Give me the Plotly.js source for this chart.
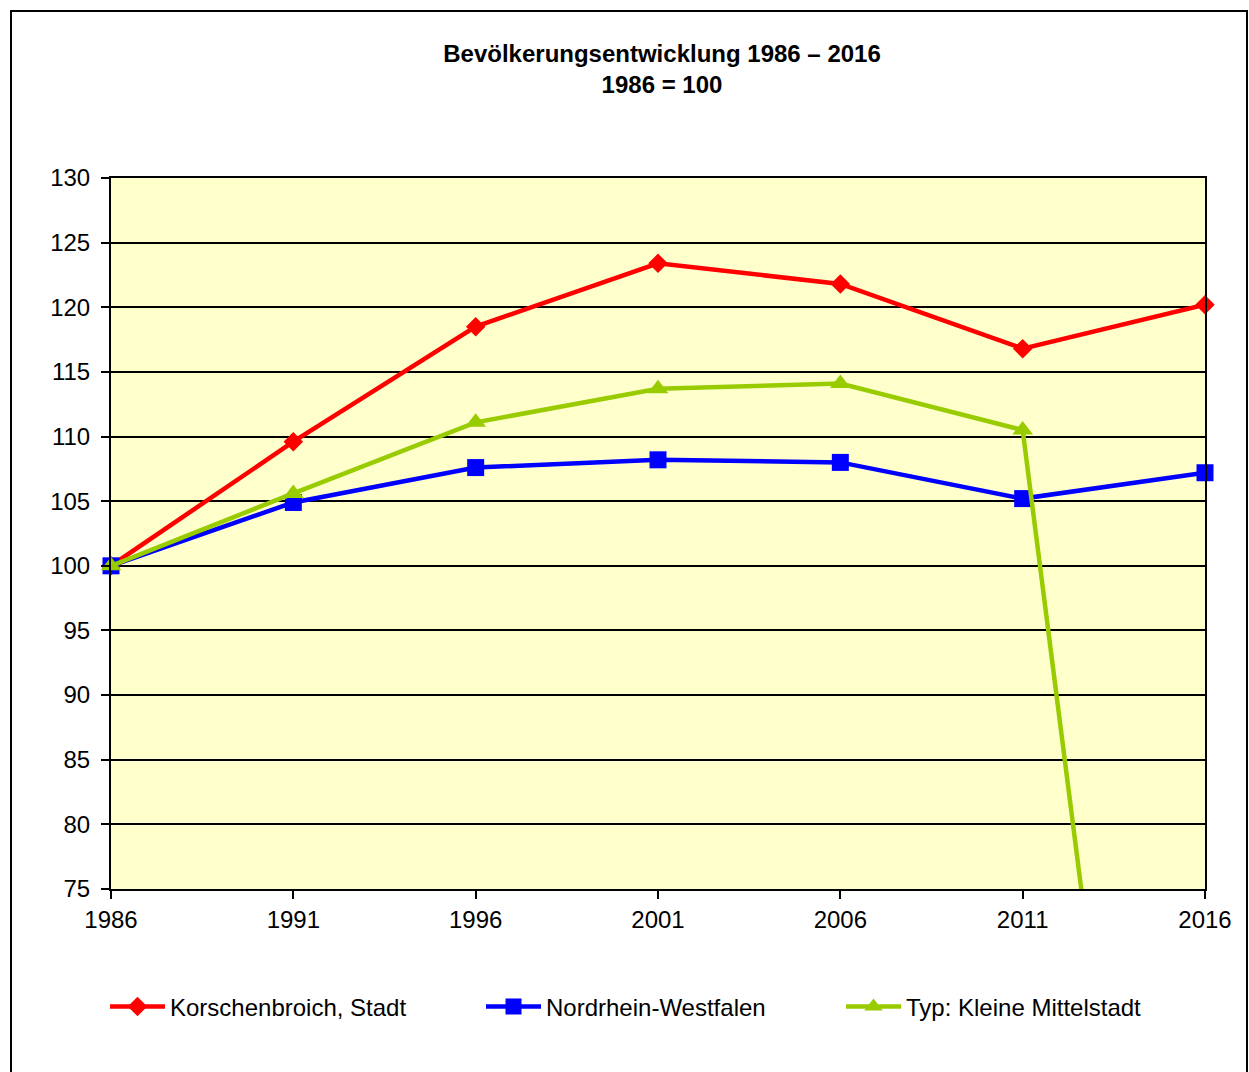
<!DOCTYPE html>
<html><head><meta charset="utf-8">
<script src="https://cdn.plot.ly/plotly-3.0.1.min.js"></script>
<style>
html,body{margin:0;padding:0;background:#fff;}
#chart{width:1249px;height:1072px;}
#frame{position:absolute;left:10px;top:10px;width:1234px;height:1080px;border:2px solid #000;pointer-events:none;}
</style></head>
<body>
<div id="chart"></div>
<div id="frame"></div>
<script>
const years = [1986, 1991, 1996, 2001, 2006, 2011, 2016];
const korschenbroich = [100, 109.6, 118.5, 123.4, 121.8, 116.8, 120.2];
const nrw = [100, 104.9, 107.6, 108.2, 108.0, 105.2, 107.2];
const kleineMittelstadt = [100, 105.6, 111.1, 113.7, 114.1, 110.5, 0];
const seriesNames = ["Korschenbroich, Stadt", "Nordrhein-Westfalen", "Typ: Kleine Mittelstadt"];
const yTicks = [75, 80, 85, 90, 95, 100, 105, 110, 115, 120, 125, 130];

const font = "Liberation Sans, Arial, sans-serif";
const fs = 24;
const traces = [
  {x: years, y: korschenbroich, name: seriesNames[0], mode: "lines+markers", cliponaxis: false, legend: "legend",
   line: {color: "#FF0000", width: 4.5}, marker: {symbol: "diamond", size: 15, color: "#FF0000"}},
  {x: years, y: nrw, name: seriesNames[1], mode: "lines+markers", cliponaxis: false, legend: "legend2",
   line: {color: "#0000FF", width: 4.5}, marker: {symbol: "square", size: 17, color: "#0000FF"}},
  {x: years, y: kleineMittelstadt, name: seriesNames[2], mode: "lines+markers", cliponaxis: false, legend: "legend3",
   line: {color: "#99CC00", width: 4.5}, marker: {symbol: "triangle-up", size: 18, color: "#99CC00"}}
];
function leg(px) {
  return {orientation: "h", xref: "container", x: px/1249, xanchor: "left",
          yref: "container", y: 1 - 1007/1072, yanchor: "middle",
          font: {family: font, size: fs}, itemwidth: 55, bgcolor: "rgba(0,0,0,0)", borderwidth: 0};
}
const layout = {
  width: 1249, height: 1072,
  margin: {l: 111, r: 44, t: 178, b: 183},
  paper_bgcolor: "#FFFFFF",
  plot_bgcolor: "#FFFFCC",
  font: {family: font, size: fs, color: "#000"},
  title: {text: "<b>Bevölkerungsentwicklung 1986 – 2016<br>1986 = 100</b>",
          font: {family: font, size: fs, color: "#000"},
          xref: "container", x: 662/1249, xanchor: "center", yref: "container", y: 1 - 62/1072, yanchor: "middle"},
  xaxis: {range: [1986, 2016], tickvals: years, ticktext: years.map(String),
          showgrid: false, zeroline: false, showline: true, linecolor: "#000", linewidth: 2,
          mirror: true, ticks: "outside", ticklen: 8, tickwidth: 2, tickcolor: "#000",
          tickfont: {family: font, size: fs}},
  yaxis: {range: [75, 130], tickvals: yTicks, showgrid: true, gridcolor: "#000", gridwidth: 2,
          zeroline: false, showline: true, linecolor: "#000", linewidth: 2, mirror: true,
          ticks: "outside", ticklen: 8, tickwidth: 2, tickcolor: "#000", ticklabelstandoff: 6,
          tickfont: {family: font, size: fs}},
  showlegend: true,
  legend: leg(105),
  legend2: leg(481),
  legend3: leg(841)
};
Plotly.newPlot("chart", traces, layout, {displayModeBar: false, staticPlot: true});
</script>
</body></html>
